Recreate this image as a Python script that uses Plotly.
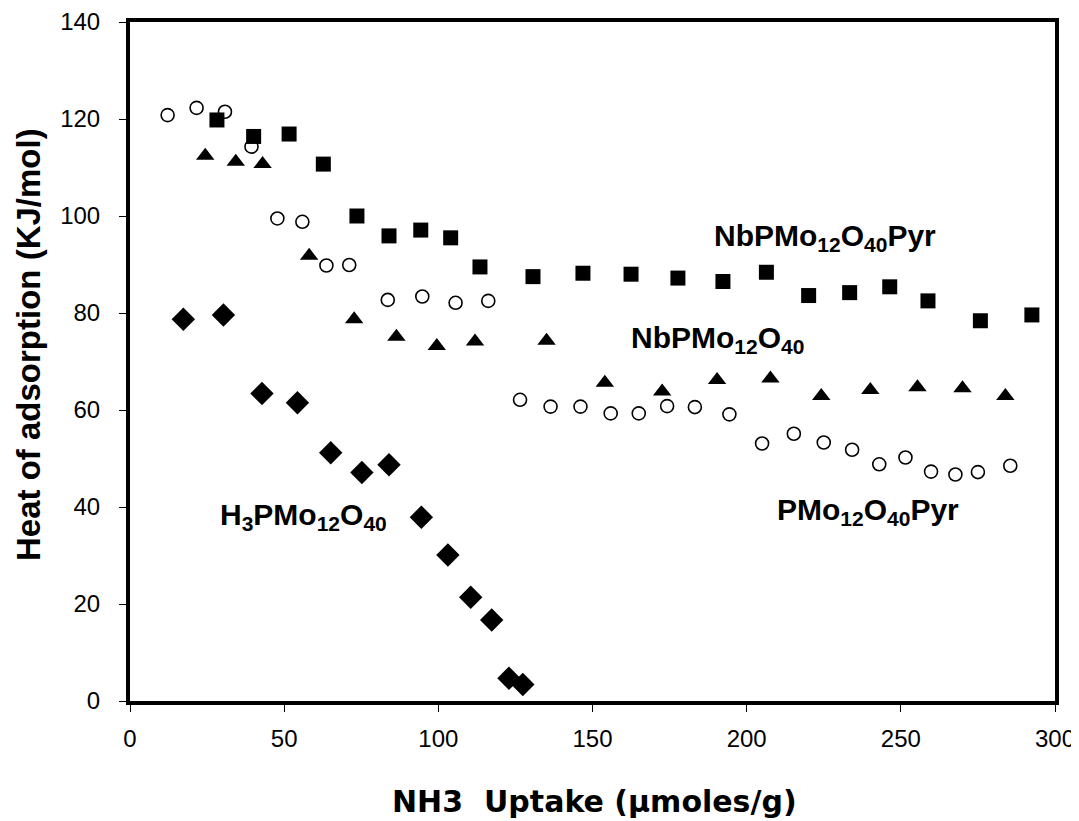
import plotly.graph_objects as go

# PMo12O40Pyr (open circles)
pyr_x = [12.2, 21.6, 30.8, 39.4, 47.8, 55.9, 63.7, 71.1, 83.6, 94.8, 105.6, 116.2,
         126.5, 136.4, 146.1, 155.9, 165.0, 174.2, 183.2, 194.4, 205.0, 215.3, 225.0,
         234.2, 243.0, 251.5, 259.8, 267.7, 275.0, 285.5]
pyr_y = [120.8, 122.3, 121.5, 114.3, 99.5, 98.8, 89.8, 89.9, 82.7, 83.4, 82.1, 82.5,
         62.1, 60.7, 60.7, 59.3, 59.3, 60.8, 60.6, 59.1, 53.1, 55.1, 53.3,
         51.8, 48.8, 50.2, 47.3, 46.7, 47.2, 48.5]

# NbPMo12O40Pyr (filled squares)
nbpyr_x = [28.2, 40.1, 51.6, 62.7, 73.6, 84.0, 94.3, 104.0, 113.5, 130.7, 146.9, 162.5,
           177.7, 192.3, 206.4, 220.1, 233.4, 246.4, 258.8, 275.8, 292.5]
nbpyr_y = [119.8, 116.4, 116.9, 110.7, 100.0, 95.9, 97.1, 95.5, 89.5, 87.5, 88.2, 88.0,
           87.2, 86.5, 88.4, 83.6, 84.2, 85.4, 82.5, 78.4, 79.6]

# NbPMo12O40 (filled triangles)
nb_x = [24.4, 34.3, 43.0, 58.1, 72.7, 86.4, 99.5, 111.9, 135.1, 154.0, 172.6, 190.4,
        207.7, 224.2, 240.1, 255.4, 270.0, 283.9]
nb_y = [112.4, 111.2, 110.7, 91.8, 78.7, 75.1, 73.2, 74.1, 74.3, 65.6, 63.8, 66.2,
        66.5, 62.9, 64.1, 64.7, 64.5, 62.9]

# H3PMo12O40 (filled diamonds)
h3_x = [17.3, 30.3, 42.8, 54.3, 65.1, 75.2, 84.0, 94.5, 103.1, 110.5, 117.3, 122.9, 127.4]
h3_y = [78.7, 79.6, 63.4, 61.5, 51.2, 47.1, 48.7, 37.9, 30.1, 21.4, 16.7, 4.7, 3.4]

labels = ["NbPMo<sub>12</sub>O<sub>40</sub>Pyr", "NbPMo<sub>12</sub>O<sub>40</sub>",
          "PMo<sub>12</sub>O<sub>40</sub>Pyr", "H<sub>3</sub>PMo<sub>12</sub>O<sub>40</sub>"]
label_x = [188.7, 161.8, 209.1, 28.7]
label_y = [95.6, 74.6, 39.0, 38.0]

x_ticks = [0, 50, 100, 150, 200, 250, 300]
y_ticks = [0, 20, 40, 60, 80, 100, 120, 140]

FONT = "Liberation Sans, Arial, sans-serif"
WIDE = "DejaVu Sans, Liberation Sans, sans-serif"

fig = go.Figure()
fig.add_trace(go.Scatter(x=pyr_x, y=pyr_y, mode="markers", name="PMo12O40Pyr",
                         marker=dict(symbol="circle-open", size=13, color="black",
                                     line=dict(width=1.6, color="black"))))
fig.add_trace(go.Scatter(x=nbpyr_x, y=nbpyr_y, mode="markers", name="NbPMo12O40Pyr",
                         marker=dict(symbol="square", size=15, color="black")))
fig.add_trace(go.Scatter(x=nb_x, y=nb_y, mode="markers", name="NbPMo12O40",
                         marker=dict(symbol="triangle-up", size=16, color="black")))
fig.add_trace(go.Scatter(x=h3_x, y=h3_y, mode="markers", name="H3PMo12O40",
                         marker=dict(symbol="diamond", size=18, color="black")))

for t, lx, ly in zip(labels, label_x, label_y):
    fig.add_annotation(x=lx, y=ly, text="<b>" + t + "</b>", showarrow=False,
                       xanchor="left", yanchor="middle",
                       font=dict(family=FONT, size=30, color="black"))

# axis titles (positions relative to the plot area: x 130..1055, y 22..701 on screen)
fig.add_annotation(text="<b>Heat of adsorption (KJ/mol)</b>", textangle=-90,
                   xref="paper", yref="paper", x=(28 - 130) / 925, y=(701 - 345) / 679,
                   xanchor="center", yanchor="middle", showarrow=False,
                   font=dict(family=FONT, size=33, color="black"))
fig.add_annotation(text="<b>NH3  Uptake (μmoles/g)</b>",
                   xref="paper", yref="paper", x=(594 - 130) / 925, y=(701 - 801) / 679,
                   xanchor="center", yanchor="middle", showarrow=False,
                   font=dict(family=WIDE, size=30, color="black"))

# page body adds an 8px offset; figure is sized so the plot area lands at the right place
fig.update_layout(
    width=1071, height=813,
    margin=dict(l=122, r=24, t=14, b=120, autoexpand=False),
    plot_bgcolor="white", paper_bgcolor="white",
    showlegend=False,
    font=dict(family=FONT, color="black"),
)
fig.update_xaxes(range=[0, 300], tickvals=x_ticks, ticks="outside", ticklen=7,
                 tickwidth=1, tickcolor="black", showline=True, linewidth=4,
                 linecolor="black", mirror=True, showgrid=False, zeroline=False,
                 automargin=False, ticklabelstandoff=6,
                 tickfont=dict(family=FONT, size=24, color="black"))
fig.update_yaxes(range=[0, 140], tickvals=y_ticks, ticks="outside", ticklen=7,
                 tickwidth=1, tickcolor="black", showline=True, linewidth=4,
                 linecolor="black", mirror=True, showgrid=False, zeroline=False,
                 automargin=False, ticklabelstandoff=14,
                 tickfont=dict(family=FONT, size=24, color="black"))

fig.write_html("out.html")
